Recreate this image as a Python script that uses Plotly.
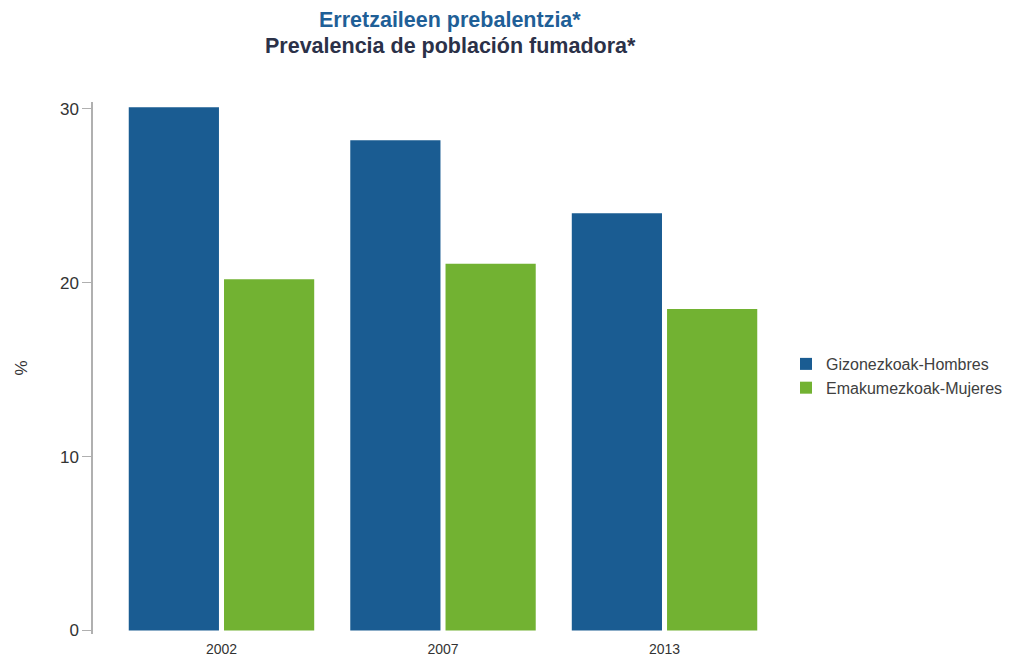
import plotly.graph_objects as go

years = ["2002", "2007", "2013"]
hombres = [30.1, 28.2, 24.0]
mujeres = [20.2, 21.1, 18.5]
series_names = ["Gizonezkoak-Hombres", "Emakumezkoak-Mujeres"]
y_ticks = [0, 10, 20, 30]
title_lines = ["Erretzaileen prebalentzia*", "Prevalencia de población fumadora*"]

BLUE = "#1a5c92"
GREEN = "#72b232"
FONT = "Liberation Sans, Arial, sans-serif"

fig = go.Figure()
fig.add_trace(go.Bar(x=years, y=hombres, name=series_names[0],
                     marker=dict(color=BLUE, line=dict(width=0))))
fig.add_trace(go.Bar(x=years, y=mujeres, name=series_names[1],
                     marker=dict(color=GREEN, line=dict(width=0))))

fig.update_layout(
    width=1022, height=657,
    margin=dict(l=93, r=229, t=102, b=22.5, autoexpand=False),
    paper_bgcolor="white", plot_bgcolor="white",
    barmode="group", bargap=0.14, bargroupgap=0.053,
    font=dict(family=FONT, color="#333333"),
    legend=dict(
        x=0.99, xanchor="left", y=0.485, yanchor="middle",
        font=dict(family=FONT, size=16, color="#404040"),
        tracegroupgap=0,
    ),
    showlegend=True,
)

# two-line heading
fig.add_annotation(text=title_lines[0], xref="paper", yref="paper",
                   x=0.51, y=1.154, xanchor="center", yanchor="middle",
                   showarrow=False,
                   font=dict(family=FONT, size=21.5, color="#1f5f97", weight="bold"))
fig.add_annotation(text=title_lines[1], xref="paper", yref="paper",
                   x=0.51, y=1.105, xanchor="center", yanchor="middle",
                   showarrow=False,
                   font=dict(family=FONT, size=21.5, color="#2b3148", weight="bold"))

fig.update_xaxes(
    range=[-0.58, 2.58], automargin=False,
    showline=False, showgrid=False, zeroline=False,
    ticks="outside", ticklen=2, tickcolor="rgba(0,0,0,0)",
    tickfont=dict(family=FONT, size=14, color="#333333"),
)
fig.update_yaxes(
    range=[-0.2, 30.4], automargin=False,
    tickvals=y_ticks,
    showline=True, linecolor="#b0b0b0", linewidth=1.5,
    ticks="outside", ticklen=9, tickcolor="#b0b0b0", tickwidth=1,
    showgrid=False, zeroline=False,
    tickfont=dict(family=FONT, size=17, color="#333333"),
    title=dict(text="%", font=dict(family=FONT, size=17, color="#333333"), standoff=28),
)

fig.write_html("out.html")
